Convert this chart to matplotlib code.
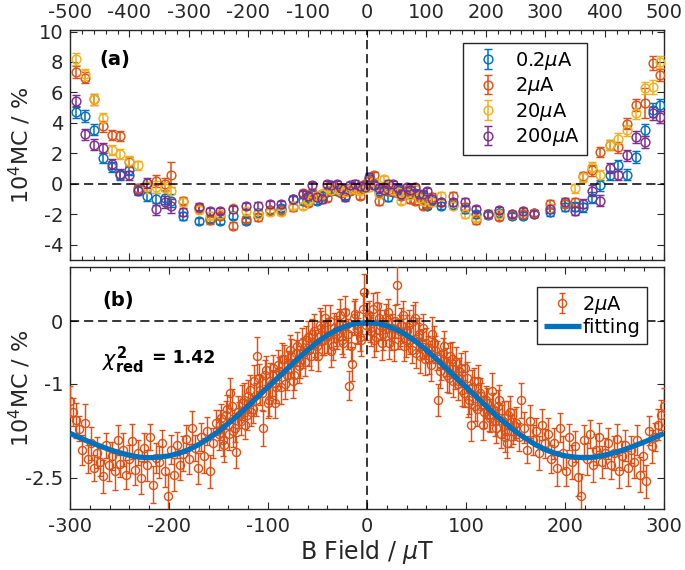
import numpy as np
import matplotlib
matplotlib.use('Agg')
import matplotlib.pyplot as plt
from matplotlib.ticker import MultipleLocator, FixedLocator

plt.rcParams['font.family'] = ['DejaVu Sans']
plt.rcParams['mathtext.fontset'] = 'dejavusans'
plt.rcParams['axes.unicode_minus'] = False

# ---------------- panel (a) data ----------------
x_a = [-490, -475, -460, -445, -430, -415, -400, -385, -370, -355, -340,
       -330,
       -310, -283, -265, -247, -225, -203, -184, -163, -144, -124, -107,
       -99, -93, -85, -76, -68, -60, -51, -43, -37, -29, -20, -12, -4, 4, 12, 21, 28, 36, 44, 52, 58, 67, 72, 81, 87, 95, 101, 109,
       124, 144, 165, 184, 203, 223, 244, 263, 281, 308, 333, 350, 364, 378, 392, 409, 423, 438, 453, 468, 482, 494]

mc_02uA = [4.72, 4.44, 3.56, 1.69, 1.10, 0.55, 0.88, -0.40, -0.80, -0.99, -0.90,
           -1.10,
           -2.10, -2.45, -2.30, -2.45, -2.10, -2.45, -1.90, -1.70, -1.60, -1.00, -1.10,
           -0.95, -0.70, -1.10, -0.80, -0.55, -0.40, -0.44, -0.30, -0.77, -0.30,
           -0.35, -0.20, -0.10, 0.33, 0.00, -0.50, -0.20, -0.88, -0.55, -0.40,
           -0.70, -0.50, -0.66, -0.60, -0.88, -0.80, -1.43, -1.10,
           -1.43, -1.40, -1.65, -2.00, -2.05, -1.90, -2.10, -2.09, -1.90, -1.87,
           -1.54, -1.50, -1.54, -0.90, -0.10, 0.55, 1.21, 0.61, 1.76, 3.56,
           4.84, 5.20]

mc_2uA = [7.36, 6.97, 5.54, 3.78, 3.19, 3.12, 1.43, -0.30, -0.20, 0.20, 0.00,
          0.60,
          -1.10, -1.60, -2.40, -2.10, -2.75, -2.30, -2.20, -1.75, -1.70, -1.55, -0.62,
          -1.27, -0.60, -0.77, -0.70, -0.90, -0.44, -0.30, -0.60, -0.50, -0.44,
          -0.30, -0.77, 0.00, 0.20, 0.55, -1.10, -0.30, -0.50, -0.44, -0.60,
          -0.77, -0.40, -0.99, -1.10, -0.80, -1.43, -1.30, -0.88,
          -1.20, -0.77, -1.50, -2.40, -1.95, -2.20, -2.05, -2.00, -1.90, -1.32,
          -1.30, -1.21, 0.50, 0.88, 2.09, 2.53, 2.40, 3.96, 5.17, 5.32,
          7.92, 7.14]

mc_20uA = [8.20, 7.19, 5.54, 4.33, 2.24, 1.98, 1.50, 1.21, -0.22, -0.20, -0.25,
           -0.45,
           -1.20, -1.70, -2.10, -2.00, -1.60, -1.80, -1.95, -1.87, -1.87, -1.45, -1.43,
           -1.10, -0.90, -0.80, -0.66, -0.22, -0.40, -0.33, -0.50, -0.55, -0.35,
           -0.33, -0.44, -0.30, -0.20, 0.11, -0.66, 0.33, -0.22, -0.40, -0.55,
           -1.10, -0.60, -0.75, -0.33, -0.90, -1.10, -1.00, -1.21,
           -0.77, -1.43, -1.98, -2.25, -2.00, -2.00, -1.98, -1.80, -1.95, -1.60,
           -1.20, -0.30, 0.44, 1.10, 0.55, 2.53, 2.97, 3.52, 4.62, 6.27,
           6.37, 8.02]

mc_200uA = [5.43, 3.25, 2.57, 2.35, 1.32, 0.66, 0.55, -0.45, 0.05, -1.65, -1.20,
            -1.45,
            -1.85, -1.50, -1.80, -1.80, -1.65, -1.45, -1.43, -1.32, -1.32, -0.99, -0.66,
            -0.77, -0.11, -0.88, -0.99, 0.00, -0.11, 0.00, -0.30, -0.88, -0.11,
            0.00, -0.15, -0.22, 0.44, -0.10, -0.30, -0.40, 0.00, 0.00, -0.30,
            -0.66, -0.20, -0.40, -0.20, -0.66, -0.66, -0.50, -0.99,
            -1.21, -1.21, -1.21, -1.65, -2.00, -1.70, -1.98, -1.80, -1.98, -1.65,
            -1.21, -1.76, -1.32, -0.44, -1.10, 1.03, 0.61, 1.87, 3.08, 2.75,
            4.62, 4.39]

err_a = [0.40, 0.38, 0.36, 0.35, 0.33, 0.32, 0.30, 0.30, 0.35, 0.38, 0.40,
         0.45,
         0.25, 0.22, 0.22, 0.20, 0.22, 0.20, 0.22, 0.20, 0.20, 0.22, 0.20,
         0.20, 0.22, 0.20, 0.25, 0.20, 0.22, 0.20, 0.20, 0.25, 0.20,
         0.22, 0.20, 0.20, 0.25, 0.22, 0.30, 0.20, 0.22, 0.20, 0.20,
         0.22, 0.20, 0.25, 0.20, 0.22, 0.20, 0.22, 0.25,
         0.22, 0.22, 0.25, 0.22, 0.22, 0.20, 0.20, 0.22, 0.20, 0.25,
         0.25, 0.30, 0.30, 0.35, 0.35, 0.32, 0.35, 0.35, 0.38, 0.40,
         0.45, 0.40]

err_a_2uA = [0.40, 0.38, 0.36, 0.35, 0.33, 0.32, 0.30, 0.30, 0.35, 0.38, 0.40,
             0.80,
             0.25, 0.22, 0.22, 0.20, 0.22, 0.20, 0.22, 0.20, 0.20, 0.22, 0.20,
             0.20, 0.22, 0.20, 0.25, 0.20, 0.22, 0.20, 0.20, 0.25, 0.20,
             0.22, 0.20, 0.20, 0.25, 0.22, 0.30, 0.20, 0.22, 0.20, 0.20,
             0.22, 0.20, 0.25, 0.20, 0.22, 0.20, 0.22, 0.25,
             0.22, 0.22, 0.25, 0.22, 0.22, 0.20, 0.20, 0.22, 0.20, 0.25,
             0.25, 0.30, 0.30, 0.35, 0.35, 0.32, 0.35, 0.35, 0.38, 1.00,
             0.45, 0.40]

labels_a = [r'0.2$\mu$A', r'2$\mu$A', r'20$\mu$A', r'200$\mu$A']
colors = ['#0072BD', '#D95319', '#EDB120', '#7E2F8E']

# ---------------- panel (b) data ----------------
x_b = np.arange(-300, 301, 3)
mc_b = [
    -1.28, -1.45, -1.58, -1.72, -2.05, -1.62, -2.20, -1.95, -2.35, -2.10,
    -2.25, -2.48, -1.98, -2.30, -2.15, -2.40, -1.90, -2.28, -2.05, -2.45,
    -2.20, -1.92, -2.38, -2.10, -2.50, -2.02, -2.30, -1.85, -2.61, -2.18,
    -2.25, -1.95, -2.40, -2.79, -2.05, -2.45, -1.98, -2.30, -2.12, -1.88,
    -2.20, -1.70, -2.02, -2.35, -1.85, -2.15, -1.75, -2.40, -1.95, -1.62,
    -1.80, -1.55, -1.98, -1.40, -1.14, -1.75, -2.09, -1.50, -1.30, -1.65,
    -1.20, -1.45, -0.95, -0.55, -1.10, -1.71, -0.78, -1.25, -0.98, -1.30,
    -0.70, -1.05, -0.60, -0.85, -0.45, -0.95, -0.50, -0.72, -0.35, -0.65,
    -0.25, -0.55, -0.15, -0.40, -0.05, -0.30, 0.05, -0.22, -0.48, -0.10,
    -0.20, 0.10, -0.35, -0.05, -1.03, -0.68, 0.12, -0.15, -0.30, 0.47,
    0.05,
    -0.10, 0.20, -0.25, 0.05, -0.35, -0.05, 0.15, -0.20, -0.40, 0.58,
    -0.15, 0.10, -0.30, -0.05, -0.45, 0.05, -0.25, -0.55, -0.10, -0.35,
    -0.60, -0.20, -0.45, -1.26, -0.70, -0.40, -0.85, -0.55, -0.95, -0.65,
    -0.80, -1.10, -0.75, -1.30, -1.65, -0.95, -1.40, -1.15, -1.65, -1.25,
    -1.50, -1.12, -1.60, -1.35, -1.80, -1.55, -1.95, -1.45, -1.75, -1.62,
    -1.85, -1.26, -1.70, -2.05, -1.60, -1.90, -1.75, -2.10, -1.65, -1.95,
    -1.80, -2.20, -1.95, -2.35, -1.70, -2.10, -2.40, -1.85, -2.25, -2.00,
    -2.49, -2.79, -1.90, -2.20, -1.80, -2.30, -2.05, -1.85, -2.25, -2.10,
    -1.95, -2.30, -2.10, -1.88, -2.40, -2.15, -1.98, -2.35, -2.05, -2.25,
    -1.90, -2.45, -2.15, -2.56, -1.75, -2.00, -1.85, -1.65, -1.50, -1.36]
err_b = [
    0.25, 0.22, 0.28, 0.20, 0.24, 0.30, 0.22, 0.26, 0.21, 0.25,
    0.23, 0.27, 0.20, 0.25, 0.22, 0.29, 0.24, 0.21, 0.26, 0.23,
    0.22, 0.28, 0.24, 0.20, 0.26, 0.23, 0.25, 0.21, 0.30, 0.24,
    0.26, 0.22, 0.25, 0.35, 0.23, 0.27, 0.21, 0.24, 0.28, 0.22,
    0.24, 0.26, 0.21, 0.25, 0.23, 0.28, 0.22, 0.26, 0.24, 0.20,
    0.25, 0.23, 0.27, 0.22, 0.24, 0.26, 0.25, 0.21, 0.28, 0.23,
    0.26, 0.22, 0.25, 0.30, 0.24, 0.28, 0.23, 0.26, 0.21, 0.25,
    0.24, 0.27, 0.22, 0.25, 0.23, 0.28, 0.21, 0.26, 0.24, 0.22,
    0.25, 0.23, 0.27, 0.21, 0.26, 0.24, 0.22, 0.28, 0.25, 0.23,
    0.24, 0.26, 0.22, 0.25, 0.23, 0.27, 0.24, 0.21, 0.26, 0.28,
    0.25,
    0.23, 0.26, 0.22, 0.25, 0.27, 0.24, 0.21, 0.26, 0.23, 0.30,
    0.25, 0.22, 0.27, 0.24, 0.21, 0.26, 0.23, 0.28, 0.22, 0.25,
    0.24, 0.27, 0.22, 0.26, 0.23, 0.25, 0.28, 0.21, 0.26, 0.24,
    0.22, 0.25, 0.28, 0.23, 0.26, 0.21, 0.27, 0.24, 0.25, 0.22,
    0.26, 0.30, 0.23, 0.25, 0.22, 0.27, 0.24, 0.26, 0.21, 0.25,
    0.23, 0.28, 0.25, 0.22, 0.26, 0.24, 0.21, 0.27, 0.25, 0.23,
    0.26, 0.22, 0.25, 0.28, 0.23, 0.26, 0.24, 0.21, 0.27, 0.25,
    0.30, 0.35, 0.24, 0.26, 0.22, 0.27, 0.25, 0.23, 0.26, 0.24,
    0.25, 0.22, 0.27, 0.24, 0.26, 0.23, 0.25, 0.28, 0.22, 0.26,
    0.24, 0.28, 0.25, 0.27, 0.23, 0.26, 0.22, 0.25, 0.24, 0.30]

# denser central sweep (interleaved field values)
x_b2 = np.arange(-148.5, 149, 3)
mc_b2 = [
    -1.65, -1.90, -1.50, -1.80, -1.35, -1.70, -1.45, -1.60, -1.25, -1.50,
    -1.10, -1.40, -1.25, -0.90, -1.15, -0.85, -1.30, -0.95, -0.75, -1.05,
    -0.80, -0.60, -1.00, -0.70, -0.55, -0.85, -0.40, -0.65, -0.50, -0.30,
    -0.45, -0.20, -0.35, -0.55, -0.10, -0.30, -0.25, 0.00, -0.40, -0.15,
    -0.05, -0.30, 0.15, -0.20, -0.40, 0.05, -0.10, -0.25, 0.20, -0.05,
    0.10, -0.15, -0.30, 0.25, -0.05, -0.20, 0.05, -0.35, -0.10, 0.00,
    -0.20, -0.05, -0.40, -0.15, -0.30, 0.00, -0.50, -0.20, -0.35, -0.60,
    -0.45, -0.70, -0.35, -0.55, -0.80, -0.50, -0.65, -0.90, -0.60, -0.85,
    -1.00, -0.75, -1.15, -0.90, -1.25, -1.05, -1.35, -0.95, -1.20, -1.45,
    -1.30, -1.55, -1.40, -1.70, -1.25, -1.60, -1.85, -1.50, -1.75, -1.65]
err_b2 = [
    0.24, 0.26, 0.22, 0.25, 0.27, 0.23, 0.25, 0.22, 0.26, 0.24,
    0.25, 0.23, 0.27, 0.22, 0.26, 0.24, 0.25, 0.28, 0.22, 0.25,
    0.23, 0.26, 0.24, 0.22, 0.27, 0.25, 0.23, 0.26, 0.24, 0.22,
    0.26, 0.24, 0.22, 0.25, 0.27, 0.23, 0.25, 0.26, 0.22, 0.24,
    0.25, 0.22, 0.26, 0.24, 0.23, 0.27, 0.25, 0.22, 0.26, 0.24,
    0.23, 0.25, 0.27, 0.22, 0.24, 0.26, 0.23, 0.25, 0.22, 0.26,
    0.24, 0.26, 0.23, 0.25, 0.22, 0.27, 0.24, 0.26, 0.23, 0.25,
    0.22, 0.25, 0.27, 0.23, 0.26, 0.24, 0.22, 0.25, 0.27, 0.23,
    0.26, 0.24, 0.22, 0.25, 0.23, 0.27, 0.24, 0.26, 0.22, 0.25,
    0.24, 0.22, 0.26, 0.25, 0.23, 0.27, 0.24, 0.22, 0.26, 0.25]

x_fit = np.arange(-300, 301, 10)
mc_fit = [-1.79, -1.86, -1.93, -1.99, -2.05, -2.10, -2.14, -2.17, -2.18, -2.17,
          -2.15, -2.11, -2.05, -1.97, -1.87, -1.76, -1.63, -1.50, -1.35, -1.20,
          -1.05, -0.90, -0.75, -0.60, -0.46, -0.33, -0.22, -0.13, -0.07, -0.03,
          -0.02,
          -0.03, -0.07, -0.13, -0.22, -0.33, -0.46, -0.60, -0.75, -0.90, -1.05,
          -1.20, -1.35, -1.50, -1.63, -1.76, -1.87, -1.97, -2.05, -2.11, -2.15,
          -2.17, -2.18, -2.17, -2.14, -2.10, -2.05, -1.99, -1.93, -1.86, -1.79]

yticks_b = [-2.5, -1, 0]
yticklabels_b = ['-2.5', '-1', '0']

# ---------------- figure ----------------
TXT = '#262626'
TICK_FS = 14
LABEL_FS = 16
fig = plt.figure(figsize=(6.85, 5.7), dpi=100)
axa = fig.add_axes([0.1022, 0.5439, 0.8672, 0.4035])
axb = fig.add_axes([0.1022, 0.1070, 0.8672, 0.4246])

series_a = [mc_02uA, mc_2uA, mc_20uA, mc_200uA]
errs_a = [err_a, err_a_2uA, err_a, err_a]
for ys, es, c, lab in zip(series_a, errs_a, colors, labels_a):
    axa.errorbar(x_a, ys, yerr=es, fmt='o', mfc='none', mec=c, ecolor=c,
                 ms=6.3, mew=1.05, elinewidth=1.1, capsize=2.6, capthick=1.1,
                 label=lab, zorder=3)

dash = (0, (6, 3.2))
for ax in (axa, axb):
    ax.axhline(0, color='k', ls=dash, lw=1.1, zorder=4.5)
    ax.axvline(0, color='k', ls=dash, lw=1.1, zorder=4.5)

axa.set_xlim(-500, 500)
axa.set_ylim(-5, 10.1)
axa.xaxis.set_major_locator(FixedLocator(range(-500, 501, 100)))
axa.xaxis.set_minor_locator(MultipleLocator(20))
axa.yaxis.set_major_locator(FixedLocator(range(-4, 11, 2)))
axa.tick_params(axis='x', which='both', labeltop=True, labelbottom=False)

ebkw = dict(fmt='o', mfc='none', mec=colors[1], ecolor=colors[1], ms=5.8,
            mew=1.0, elinewidth=1.05, capsize=2.3, capthick=1.05, zorder=3)
eb = axb.errorbar(x_b, mc_b, yerr=err_b, label=r'2$\mu$A', **ebkw)
axb.errorbar(x_b2, mc_b2, yerr=err_b2, **ebkw)
fl, = axb.plot(x_fit, mc_fit, color='#0072BD', lw=3.8, label='fitting', zorder=4,
               solid_capstyle='butt')
axb.set_xlim(-300, 300)
axb.set_ylim(-3.0, 0.87)
axb.xaxis.set_major_locator(FixedLocator(range(-300, 301, 100)))
axb.xaxis.set_minor_locator(MultipleLocator(20))
axb.set_yticks(yticks_b)
axb.set_yticklabels(yticklabels_b)

for ax in (axa, axb):
    ax.tick_params(which='both', direction='in', top=True, right=True,
                   labelsize=TICK_FS, colors=TXT, width=0.8)
    ax.tick_params(which='major', length=5)
    ax.tick_params(which='minor', length=3)
    ax.tick_params(axis='x', which='both', pad=6)
    ax.tick_params(axis='y', which='both', pad=5)
    for s in ax.spines.values():
        s.set_color(TXT)
        s.set_linewidth(1.0)
    ax.set_ylabel(r'10$^4$MC / %', fontsize=LABEL_FS, color=TXT)
    ax.yaxis.set_label_coords(-0.062, 0.5)

axb.set_xlabel(r'B Field / $\mu$T', fontsize=17, color=TXT, labelpad=1)

axa.text(0.05, 0.87, '(a)', transform=axa.transAxes, fontsize=14,
         fontweight='bold', va='center', ha='left', color='k')
axb.text(0.054, 0.862, '(b)', transform=axb.transAxes, fontsize=14,
         fontweight='bold', va='center', ha='left', color='k')
axb.text(0.054, 0.615, r'$\chi^{\mathbf{2}}_{\mathbf{red}}$', transform=axb.transAxes,
         fontsize=15, va='center', ha='left', color='k')
axb.text(0.138, 0.625, '= 1.42', transform=axb.transAxes, fontsize=12.5,
         fontweight='bold', va='center', ha='left', color='k')

la = axa.legend(loc='upper right', bbox_to_anchor=(0.870, 0.943), fontsize=14,
                fancybox=False, edgecolor=TXT, framealpha=1, borderpad=0.35,
                labelspacing=0.18, handlelength=1.9, handletextpad=0.45,
                borderaxespad=0)
la.get_frame().set_linewidth(1.0)
lb = axb.legend([eb, fl], [r'2$\mu$A', 'fitting'], loc='upper right',
                bbox_to_anchor=(0.971, 0.917), fontsize=14, fancybox=False,
                edgecolor=TXT, framealpha=1, borderpad=0.35, labelspacing=0.12,
                handlelength=1.9, handletextpad=0.08, borderaxespad=0)
lb.get_frame().set_linewidth(1.0)

fig.savefig('out.png', dpi=100)
